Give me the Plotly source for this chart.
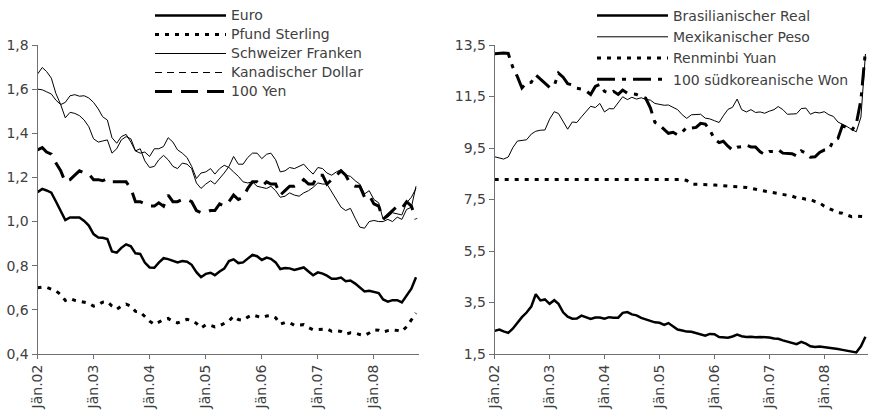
import plotly.graph_objects as go
import pandas as pd

# Monthly data, Jan 2002 - Oct 2008 (units of currency per 1 USD)
dates = pd.date_range("2002-01-01", "2008-10-01", freq="MS")

euro = [1.133, 1.148, 1.141, 1.131, 1.091, 1.047, 1.007, 1.019, 1.019, 1.019, 1.003, 0.982,
        0.943, 0.928, 0.927, 0.921, 0.865, 0.859, 0.881, 0.897, 0.888, 0.856, 0.853, 0.814,
        0.792, 0.791, 0.814, 0.834, 0.830, 0.822, 0.815, 0.821, 0.818, 0.804, 0.771, 0.748,
        0.763, 0.768, 0.757, 0.774, 0.787, 0.821, 0.829, 0.812, 0.815, 0.832, 0.849, 0.843,
        0.826, 0.837, 0.831, 0.815, 0.785, 0.790, 0.788, 0.781, 0.787, 0.792, 0.774, 0.757,
        0.770, 0.764, 0.755, 0.741, 0.741, 0.746, 0.730, 0.733, 0.719, 0.703, 0.683, 0.686,
        0.680, 0.676, 0.647, 0.637, 0.644, 0.644, 0.634, 0.668, 0.696, 0.748]

pfund = [0.700, 0.703, 0.702, 0.693, 0.686, 0.669, 0.643, 0.652, 0.643, 0.639, 0.636, 0.630,
         0.617, 0.623, 0.635, 0.637, 0.617, 0.603, 0.617, 0.626, 0.617, 0.593, 0.590, 0.571,
         0.549, 0.534, 0.544, 0.556, 0.561, 0.547, 0.541, 0.548, 0.557, 0.552, 0.539, 0.518,
         0.532, 0.530, 0.523, 0.528, 0.537, 0.550, 0.571, 0.556, 0.553, 0.567, 0.577, 0.572,
         0.565, 0.572, 0.574, 0.564, 0.535, 0.543, 0.542, 0.530, 0.531, 0.533, 0.520, 0.510,
         0.511, 0.511, 0.514, 0.503, 0.505, 0.502, 0.490, 0.496, 0.495, 0.488, 0.484, 0.495,
         0.509, 0.508, 0.500, 0.506, 0.509, 0.507, 0.502, 0.524, 0.557, 0.585]

franken = [1.668, 1.698, 1.680, 1.650, 1.580, 1.530, 1.470, 1.495, 1.490, 1.480, 1.460, 1.430,
           1.375, 1.360, 1.365, 1.370, 1.310, 1.330, 1.370, 1.385, 1.375, 1.320, 1.330, 1.275,
           1.245, 1.250, 1.280, 1.300, 1.280, 1.250, 1.240, 1.265, 1.260, 1.240, 1.175, 1.150,
           1.170, 1.185, 1.170, 1.195, 1.220, 1.250, 1.295, 1.260, 1.260, 1.290, 1.310, 1.310,
           1.285, 1.305, 1.310, 1.280, 1.225, 1.230, 1.245, 1.240, 1.250, 1.260, 1.235, 1.215,
           1.245, 1.240, 1.220, 1.210, 1.225, 1.235, 1.210, 1.205, 1.185, 1.170, 1.125, 1.140,
           1.100, 1.085, 1.010, 1.020, 1.040, 1.035, 1.030, 1.085, 1.110, 1.150]

kandollar = [1.600, 1.597, 1.588, 1.578, 1.550, 1.530, 1.540, 1.570, 1.575, 1.568, 1.570, 1.560,
             1.540, 1.510, 1.475, 1.460, 1.380, 1.355, 1.385, 1.395, 1.360, 1.320, 1.310, 1.315,
             1.295, 1.330, 1.330, 1.340, 1.380, 1.360, 1.325, 1.310, 1.290, 1.250, 1.195, 1.220,
             1.225, 1.240, 1.215, 1.240, 1.255, 1.245, 1.225, 1.205, 1.180, 1.175, 1.180, 1.160,
             1.155, 1.150, 1.160, 1.140, 1.110, 1.115, 1.130, 1.120, 1.115, 1.130, 1.140, 1.155,
             1.175, 1.170, 1.170, 1.135, 1.095, 1.065, 1.050, 1.060, 1.015, 0.975, 0.970, 1.000,
             1.005, 1.000, 1.000, 1.010, 1.000, 1.020, 1.010, 1.055, 1.065, 1.160]

yen100 = [1.325, 1.335, 1.315, 1.305, 1.265, 1.230, 1.180, 1.190, 1.210, 1.230, 1.220, 1.215,
          1.190, 1.190, 1.185, 1.195, 1.180, 1.180, 1.180, 1.180, 1.150, 1.090, 1.090, 1.080,
          1.070, 1.070, 1.085, 1.070, 1.120, 1.090, 1.090, 1.100, 1.100, 1.090, 1.050, 1.040,
          1.040, 1.050, 1.050, 1.080, 1.070, 1.090, 1.120, 1.100, 1.110, 1.150, 1.180, 1.180,
          1.160, 1.180, 1.170, 1.170, 1.120, 1.140, 1.160, 1.160, 1.170, 1.190, 1.170, 1.170,
          1.210, 1.210, 1.170, 1.190, 1.210, 1.230, 1.210, 1.170, 1.160, 1.160, 1.110, 1.120,
          1.080, 1.070, 1.010, 1.030, 1.050, 1.070, 1.060, 1.090, 1.070, 1.010]

real = [2.40, 2.45, 2.38, 2.32, 2.48, 2.71, 2.93, 3.11, 3.34, 3.82, 3.58, 3.62,
        3.45, 3.59, 3.45, 3.12, 2.95, 2.87, 2.88, 2.99, 2.92, 2.86, 2.92, 2.92,
        2.87, 2.93, 2.91, 2.91, 3.10, 3.13, 3.04, 3.00, 2.90, 2.85, 2.79, 2.73,
        2.71, 2.63, 2.70, 2.58, 2.45, 2.41, 2.37, 2.36, 2.30, 2.25, 2.21, 2.28,
        2.27, 2.16, 2.15, 2.13, 2.18, 2.25, 2.19, 2.16, 2.17, 2.15, 2.16, 2.15,
        2.14, 2.10, 2.09, 2.03, 1.98, 1.93, 1.88, 1.97, 1.90, 1.80, 1.77, 1.79,
        1.77, 1.73, 1.71, 1.69, 1.66, 1.62, 1.59, 1.56, 1.80, 2.17]

peso = [9.16, 9.10, 9.07, 9.15, 9.51, 9.77, 9.79, 9.82, 10.04, 10.15, 10.19, 10.20,
        10.62, 10.91, 10.84, 10.51, 10.23, 10.51, 10.49, 10.71, 10.93, 11.12, 11.07, 11.23,
        10.90, 11.03, 11.02, 11.26, 11.49, 11.38, 11.47, 11.40, 11.45, 11.39, 11.36, 11.23,
        11.19, 11.16, 11.17, 11.09, 10.99, 10.79, 10.65, 10.79, 10.79, 10.81, 10.66, 10.63,
        10.56, 10.49, 10.75, 11.00, 11.08, 11.40, 10.99, 10.90, 10.99, 10.88, 10.90, 10.85,
        10.93, 10.99, 11.11, 10.99, 10.81, 10.82, 10.83, 11.03, 11.05, 10.81, 10.89, 10.86,
        10.91, 10.79, 10.73, 10.51, 10.43, 10.33, 10.22, 10.13, 10.70, 13.15]

yuan = [8.28] * 42 + [8.24, 8.10, 8.09, 8.09, 8.08, 8.07,
                      8.06, 8.05, 8.03, 8.02, 8.02, 8.00, 7.99, 7.97, 7.93, 7.90, 7.86, 7.82,
                      7.79, 7.75, 7.74, 7.72, 7.67, 7.63, 7.57, 7.56, 7.51, 7.50, 7.42, 7.37,
                      7.24, 7.16, 7.07, 6.99, 6.97, 6.89, 6.83, 6.85, 6.83, 6.83]

won100 = [13.16, 13.19, 13.19, 13.17, 12.64, 12.27, 11.83, 12.04, 12.05, 12.34, 12.17, 12.03,
          11.85, 11.92, 12.41, 12.25, 12.00, 11.95, 11.82, 11.79, 11.72, 11.58, 11.89, 11.97,
          11.70, 11.62, 11.70, 11.58, 11.75, 11.63, 11.60, 11.58, 11.50, 11.43, 11.06, 10.50,
          10.39, 10.23, 10.07, 10.11, 10.01, 10.12, 10.30, 10.27, 10.30, 10.46, 10.43, 10.20,
          9.85, 9.71, 9.76, 9.57, 9.42, 9.53, 9.55, 9.61, 9.54, 9.54, 9.35, 9.25,
          9.36, 9.36, 9.43, 9.30, 9.28, 9.28, 9.19, 9.39, 9.30, 9.14, 9.16, 9.33,
          9.42, 9.44, 9.78, 9.87, 10.37, 10.29, 10.18, 10.43, 11.37, 13.27]

tick_years = [2002, 2003, 2004, 2005, 2006, 2007, 2008]
tick_labels = ["Jän.02", "Jän.03", "Jän.04", "Jän.05", "Jän.06", "Jän.07", "Jän.08"]

FONT = "DejaVu Sans"
TXT = "#404040"
AX = "#707070"


def big(t):
    return f'<span style="font-size:14px">{t}</span>'


fig = go.Figure()

# ---- left panel
fig.add_trace(go.Scatter(x=dates, y=euro, name=big("Euro"), mode="lines",
                         line=dict(color="black", width=2.5), xaxis="x", yaxis="y", legend="legend"))
fig.add_trace(go.Scatter(x=dates, y=pfund, name=big("Pfund Sterling"), mode="lines",
                         line=dict(color="black", width=3, dash="4px,6px"), xaxis="x", yaxis="y", legend="legend"))
fig.add_trace(go.Scatter(x=dates, y=franken, name=big("Schweizer Franken"), mode="lines",
                         line=dict(color="black", width=1), xaxis="x", yaxis="y", legend="legend"))
fig.add_trace(go.Scatter(x=[None], y=[None], name=big("Kanadischer Dollar"), mode="lines",
                         line=dict(color="black", width=1, dash="7px,5px"), xaxis="x", yaxis="y", legend="legend"))
fig.add_trace(go.Scatter(x=dates, y=yen100, name=big("100 Yen"), mode="lines",
                         line=dict(color="black", width=3, dash="17px,9px"), xaxis="x", yaxis="y", legend="legend"))
fig.add_trace(go.Scatter(x=dates, y=kandollar, name="Kanadischer Dollar", mode="lines", showlegend=False,
                         line=dict(color="black", width=1), xaxis="x", yaxis="y"))

# ---- right panel
for vals, nm, ln in [
        (real, "Brasilianischer Real", dict(color="black", width=2.5)),
        (peso, "Mexikanischer Peso", dict(color="black", width=1)),
        (yuan, "Renminbi Yuan", dict(color="black", width=3, dash="4px,6px")),
        (won100, "100 südkoreanische Won", dict(color="black", width=3, dash="18px,7px,4px,7px"))]:
    fig.add_trace(go.Scatter(x=dates, y=vals, name=nm, mode="lines", line=ln,
                             xaxis="x2", yaxis="y2", legend="legend2"))

W, H = 870, 412
xr = ["2002-01-01", "2008-10-18"]
tickvals = [f"{y}-01-01" for y in tick_years]

common_x = dict(type="date", range=xr, tickmode="array", tickvals=tickvals, ticktext=tick_labels,
                tickangle=-90, showgrid=False, zeroline=False, showline=True, linecolor=AX,
                linewidth=1, ticks="outside", ticklen=4, tickcolor=AX, automargin=False,
                tickfont=dict(family=FONT, size=14, color=TXT))
common_y = dict(showgrid=False, zeroline=False, showline=True, linecolor=AX, linewidth=1,
                ticks="outside", ticklen=5, tickcolor=AX, tickformat=".1f", automargin=False,
                tickfont=dict(family=FONT, size=14, color=TXT))

ydom = [58 / H, 367 / H]

fig.update_layout(
    width=W, height=H,
    margin=dict(l=0, r=0, t=0, b=0, autoexpand=False),
    paper_bgcolor="white", plot_bgcolor="white",
    separators=", ",
    font=dict(family=FONT, size=14, color=TXT),
    xaxis=dict(domain=[37.5 / W, 418.6 / W], anchor="y", **common_x),
    yaxis=dict(domain=ydom, anchor="x", range=[0.4, 1.8], tick0=0.4, dtick=0.2, **common_y),
    xaxis2=dict(domain=[494.7 / W, 868 / W], anchor="y2", **common_x),
    yaxis2=dict(domain=ydom, anchor="x2", range=[1.5, 13.5], tick0=1.5, dtick=2, **common_y),
    legend=dict(x=150 / W, y=1 - 1 / H, xanchor="left", yanchor="top", bgcolor="rgba(0,0,0,0)",
                font=dict(family=FONT, size=12, color=TXT), itemwidth=71, traceorder="normal"),
    legend2=dict(x=592 / W, y=1, xanchor="left", yanchor="top", bgcolor="rgba(0,0,0,0)",
                 font=dict(family=FONT, size=14, color=TXT), itemwidth=71, traceorder="normal"),
    showlegend=True,
)

fig.write_html("out.html", config={"displayModeBar": False},
               post_script="document.body.style.margin='0';document.body.style.overflow='hidden';")
